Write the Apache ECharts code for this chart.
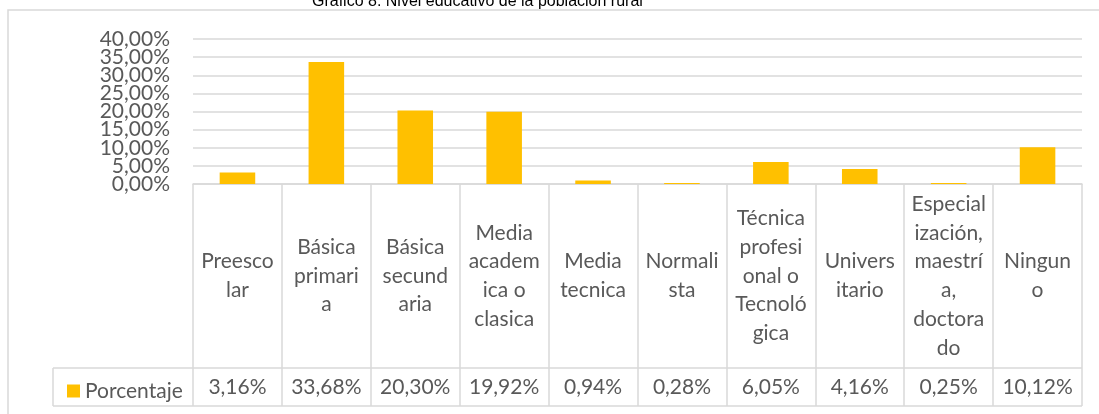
<!DOCTYPE html>
<html>
<head>
<meta charset="utf-8">
<style>
  html, body { margin: 0; padding: 0; background: #fff; }
  #nivelChart { width: 1099px; height: 414px; }
</style>
<script src="https://cdn.jsdelivr.net/npm/echarts@6/dist/echarts.min.js"></script>
</head>
<body>
<div id="nivelChart"></div>
<script>
// datos
const categorias = ['Preescolar', 'Básica primaria', 'Básica secundaria', 'Media academica o clasica',
  'Media tecnica', 'Normalista', 'Técnica profesional o Tecnológica', 'Universitario',
  'Especialización, maestría, doctorado', 'Ninguno'];
// cortes de linea tal como salen en la tabla
const etiquetas = ['Preesco\nlar', 'Básica\nprimari\na', 'Básica\nsecund\naria', 'Media\nacadem\nica o\nclasica',
  'Media\ntecnica', 'Normali\nsta', 'Técnica\nprofesi\nonal o\nTecnoló\ngica', 'Univers\nitario',
  'Especial\nización,\nmaestrí\na,\ndoctora\ndo', 'Ningun\no'];
const porcentaje = [3.16, 33.68, 20.30, 19.92, 0.94, 0.28, 6.05, 4.16, 0.25, 10.12];
const ticksY = [0, 5, 10, 15, 20, 25, 30, 35, 40];

const fmt = v => v.toFixed(2).replace('.', ',') + '%';
const gris = '#d9d9d9';
const texto = '#595959';
const fuente = 'Lato';

// las etiquetas del eje Y se solapan, asi que se reparten en dos ejes iguales
const ejeY = (valores, lineas) => ({
  type: 'value',
  position: 'left',
  min: ticksY[0],
  max: ticksY[ticksY.length - 1],
  interval: 5,
  axisLine: { show: false },
  axisTick: { show: false },
  axisLabel: {
    customValues: valores,
    margin: 23, fontFamily: fuente, fontSize: 21, color: texto,
    showMinLabel: true, showMaxLabel: true,
    formatter: v => fmt(v)
  },
  splitLine: { show: lineas, lineStyle: { color: gris, width: 1.5 } }
});

let option = {
  animation: false,
  title: {
    text: 'Gráfico 8. Nivel educativo de la población rural',
    left: 307,
    top: -11,
    textStyle: { fontFamily: 'Liberation Sans', fontSize: 16, fontWeight: 'normal', color: '#000' }
  },
  legend: {
    data: ['Porcentaje'],
    left: 62,
    top: 374,
    icon: 'rect',
    itemWidth: 13,
    itemHeight: 13,
    itemGap: 5,
    textStyle: { fontFamily: fuente, fontSize: 21, color: texto, lineHeight: 24 }
  },
  grid: { left: 193, right: 17, top: 39, bottom: 230 },
  xAxis: [
    {
      type: 'category',
      data: categorias,
      axisLine: { lineStyle: { color: gris, width: 1.5 } },
      axisTick: { show: true, interval: 0, length: 222, lineStyle: { color: gris, width: 1.5 } },
      axisLabel: {
        interval: 0,
        margin: 92,
        verticalAlign: 'middle',
        align: 'center',
        fontFamily: fuente,
        fontSize: 21,
        lineHeight: 28.7,
        color: texto,
        formatter: (v, i) => etiquetas[i]
      }
    },
    {
      type: 'category',
      data: categorias,
      position: 'bottom',
      axisLine: { show: false },
      axisTick: { show: false },
      axisLabel: {
        interval: 0,
        margin: 203,
        verticalAlign: 'middle',
        fontFamily: fuente,
        fontSize: 21,
        color: texto,
        formatter: (v, i) => fmt(porcentaje[i])
      }
    }
  ],
  yAxis: [
    ejeY(ticksY.filter((v, i) => i % 2 === 0), true),
    ejeY(ticksY.filter((v, i) => i % 2 === 1), false)
  ],
  graphic: [
    // marco exterior del grafico
    { type: 'rect', shape: { x: 8, y: 10, width: 1200, height: 500 }, style: { fill: 'none', stroke: gris, lineWidth: 1.5 } },
    // lineas de la tabla de datos
    { type: 'line', shape: { x1: 53, y1: 368, x2: 1082, y2: 368 }, style: { stroke: gris, lineWidth: 1.5 } },
    { type: 'line', shape: { x1: 53, y1: 406, x2: 1082, y2: 406 }, style: { stroke: gris, lineWidth: 1.5 } },
    { type: 'line', shape: { x1: 53, y1: 368, x2: 53, y2: 406 }, style: { stroke: gris, lineWidth: 1.5 } }
  ],
  series: [
    {
      name: 'Porcentaje',
      type: 'bar',
      data: porcentaje,
      barWidth: '40%',
      itemStyle: { color: '#ffc000' }
    }
  ]
};

let myChart = echarts.init(document.getElementById('nivelChart'));
myChart.setOption(option);
</script>
</body>
</html>
